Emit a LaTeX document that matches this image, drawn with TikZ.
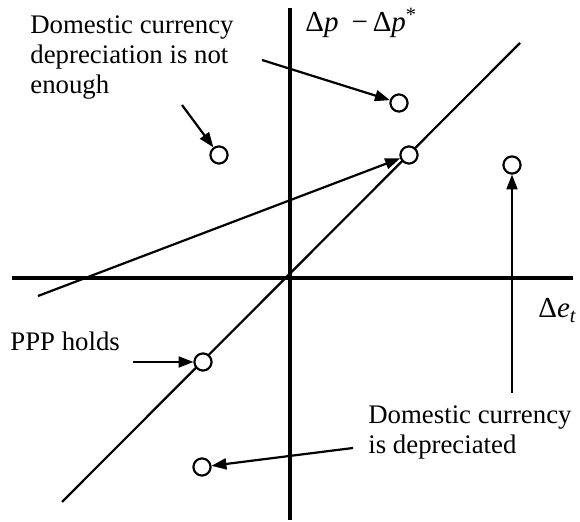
\documentclass[tikz,border=0pt]{standalone}
\usepackage{fontspec}
\setmainfont{Liberation Serif}
\usetikzlibrary{arrows.meta}
\begin{document}
\begin{tikzpicture}[x=0.5pt,y=-0.5pt,
  axisline/.style={line width=2.2pt},
  thinline/.style={line width=1.1pt},
  arr/.style={thinline,-{Triangle[length=7.5pt,width=5.5pt]}},
  pt/.style={circle,draw,line width=1pt,fill=white,minimum size=8.5pt,inner sep=0pt},
  lbl/.style={inner sep=0pt,align=left,font=\fontsize{13.4pt}{15pt}\selectfont},
  mlbl/.style={inner sep=0pt,font=\fontsize{14.5pt}{16pt}\selectfont},
]
\useasboundingbox (0,0) rectangle (580,522);
% axes
\coordinate (vtop) at (290,8);
\coordinate (vbot) at (290,520);
\coordinate (hl) at (12,278);
\coordinate (hr) at (573,278);
\draw[axisline] (vtop) -- (vbot);
\draw[axisline] (hl) -- (hr);
% diagonal
\coordinate (dlo) at (62,502);
\coordinate (dhi) at (520,43);
\draw[thinline] (dlo) -- (dhi);
% points
\node[pt] (c1) at (399,103) {};
\node[pt] (c2) at (219,155) {};
\node[pt] (c3) at (409,155) {};
\node[pt] (c4) at (512,165) {};
\node[pt] (c5) at (203,362) {};
\node[pt] (c6) at (202,467) {};
% arrow tails
\coordinate (a1) at (262,60);
\coordinate (a2) at (182,105);
\coordinate (a3) at (38,296);
\coordinate (a4) at (512,393);
\coordinate (a5) at (133,362);
\coordinate (a6) at (353,448);
\draw[arr] (a1) -- (c1);
\draw[arr] (a2) -- (c2);
\draw[arr] (a3) -- (c3);
\draw[arr] (a4) -- (c4);
\draw[arr] (a5) -- (c5);
\draw[arr] (a6) -- (c6);
% redraw points on top
\foreach \p in {c1,c2,c3,c4,c5,c6}
  \node[pt] at (\p) {};
% labels
\node[lbl,anchor=north west] (t1) at (30,15) {Domestic currency\\depreciation is not\\enough};
\node[lbl,anchor=north west] (t2) at (10,332) {PPP holds};
\node[lbl,anchor=north west] (t3) at (368,405) {Domestic currency\\is depreciated};
\node[mlbl,anchor=base west] (ly) at (305,32) {Δ\textit{p}\hspace{0.45em}−\,Δ\textit{p}\textsuperscript{*}};
\node[mlbl,anchor=base west] (lx) at (538,318) {Δ\textit{e}\textsubscript{\textit{t}}};
\end{tikzpicture}
\end{document}
